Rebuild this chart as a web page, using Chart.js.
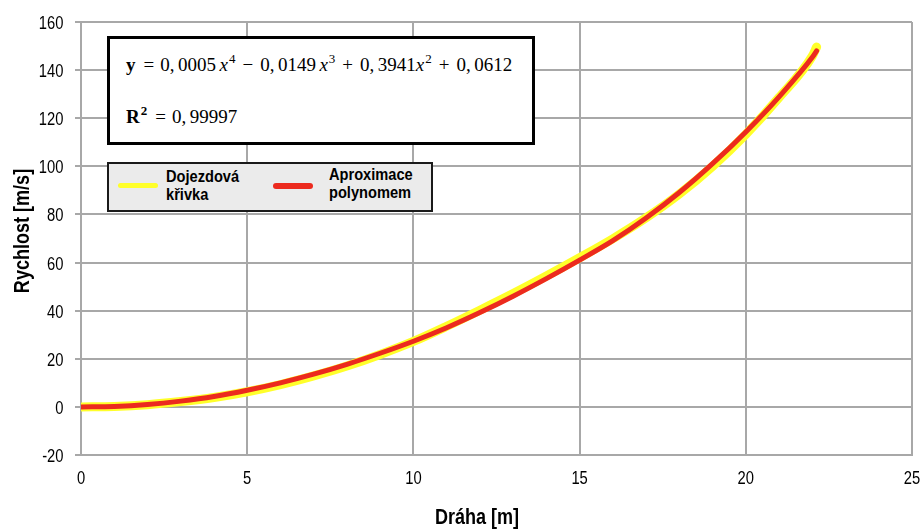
<!DOCTYPE html>
<html>
<head>
<meta charset="utf-8">
<title>Dojezdová křivka</title>
<script src="https://cdn.jsdelivr.net/npm/chart.js@4.4.1/dist/chart.umd.min.js"></script>
<style>
  html, body { margin: 0; padding: 0; background: #fff; }
  #wrap { position: relative; width: 923px; height: 530px; overflow: hidden; }
  #chart { position: absolute; left: 0; top: 0; }
  #eq {
    position: absolute; left: 107px; top: 36px; width: 428px; height: 109px;
    box-sizing: border-box; border: 3px solid #000; background: #fff;
    font-family: "Liberation Serif", "DejaVu Serif", serif; font-size: 19px; color: #000;
  }
  #eq .ln { position: absolute; left: 16px; white-space: nowrap; line-height: 19px; }
  #eq sup { font-size: 13px; line-height: 0; vertical-align: 0; position: relative; top: -7.5px; margin-left: 1px; }
  #eq i { font-style: italic; }
  #eq .op { margin: 0 7px; }
  #eq .rel { margin: 0 6px 0 8px; }
  #eq .th { margin-left: 3.5px; }
  #legend {
    position: absolute; left: 107px; top: 162px; width: 326px; height: 50px;
    box-sizing: border-box; border: 2px solid #1a1a1a; background: #ebebeb;
    font-family: "Liberation Sans", sans-serif;
    font-weight: bold; font-size: 17px; color: #000;
  }
  #legend .sw { position: absolute; width: 40px; border-radius: 3px; }
  #legend .tx { position: absolute; line-height: 18px; white-space: nowrap; transform: scaleX(0.86); transform-origin: 0 0; }
</style>
</head>
<body>
<div id="wrap">
  <canvas id="chart" width="923" height="530"></canvas>
  <div id="eq">
    <div class="ln" style="top:15.5px"><b>y</b><span class="rel">=</span>0,<span class="th"></span>0005<span class="th"></span><i>x</i><sup>4</sup><span class="op">−</span>0,<span class="th"></span>0149<span class="th"></span><i>x</i><sup>3</sup><span class="op">+</span>0,<span class="th"></span>3941<i>x</i><sup>2</sup><span class="op">+</span>0,<span class="th"></span>0612</div>
    <div class="ln" style="top:67.5px"><b>R<sup>2</sup></b><span class="rel">=</span>0,<span class="th"></span>99997</div>
  </div>
  <div id="legend"></div>
</div>
<script>
// Distance travelled during the coast-down run [m]
const distance = [0, 1, 2, 3, 4, 5, 6, 7, 8, 9, 10, 11, 12, 13, 14, 15, 16, 17, 18, 19, 20, 21, 22, 22.13];
// Measured coast-down curve [m/s]
const measuredSpeed = [0, 0.2, 0.9, 2.2, 3.9, 6.3, 9.3, 12.9, 17.0, 21.8, 27.2, 33.5, 40.2, 47.1, 54.4, 62.0, 69.9, 78.6, 88.5, 100.0, 113.3, 128.6, 145.8, 149.6];
// Polynomial approximation [m/s]
const approxSpeed = [0, 0.2, 1.0, 2.4, 4.3, 6.9, 10.0, 13.6, 17.7, 22.3, 27.3, 32.9, 39.2, 46.0, 53.3, 61.0, 69.1, 78.5, 89.1, 101.1, 114.3, 128.9, 145.3, 148.0];

const seriesLabels = ['Dojezdová křivka', 'Aproximace polynomem'];
const seriesColors = ['#ffff2a', '#ec2a1e'];

const xTitle = 'Dráha [m]';
const yTitle = 'Rychlost [m/s]';
const xTicks = { min: 0, max: 25, step: 5 };
const yTicks = { min: -20, max: 160, step: 20 };

const sansFamily = '"Liberation Sans", Arial, sans-serif';
const narrowScale = 0.82;   // condensed lettering
const gridColor = '#a8a8a8';

const toPoints = (xs, ys) => xs.map((x, i) => ({ x, y: ys[i] }));

// draws condensed text aligned at (x, y)
function narrowText(ctx, text, x, y, align) {
  ctx.save();
  ctx.translate(x, y);
  ctx.scale(narrowScale, 1);
  ctx.textAlign = align;
  ctx.fillText(text, 0, 0);
  ctx.restore();
}

// tick labels and axis titles in a condensed face
const condensedLabels = {
  id: 'condensedLabels',
  afterDraw(chart) {
    const { ctx, scales: { x, y } } = chart;
    ctx.save();
    ctx.fillStyle = '#000';
    ctx.textBaseline = 'middle';
    ctx.font = '18px ' + sansFamily;
    y.ticks.forEach(t => {
      narrowText(ctx, t.label, y.right - 17.5, y.getPixelForValue(t.value) + 2, 'right');
    });
    x.ticks.forEach(t => {
      narrowText(ctx, t.label, x.getPixelForValue(t.value), x.top + 24, 'center');
    });
    ctx.font = 'bold 22px ' + sansFamily;
    narrowText(ctx, xTitle, 477, 518, 'center');
    ctx.translate(23, 231);
    ctx.rotate(-Math.PI / 2);
    narrowText(ctx, yTitle, 0, 0, 'center');
    ctx.restore();
  }
};

const chart = new Chart(document.getElementById('chart'), {
  type: 'line',
  data: {
    datasets: [
      {
        label: seriesLabels[0],
        data: toPoints(distance, measuredSpeed),
        borderColor: seriesColors[0],
        backgroundColor: seriesColors[0],
        borderWidth: 9,
        order: 2
      },
      {
        label: seriesLabels[1],
        data: toPoints(distance, approxSpeed),
        borderColor: seriesColors[1],
        backgroundColor: seriesColors[1],
        borderWidth: 5,
        order: 1
      }
    ]
  },
  options: {
    responsive: false,
    animation: false,
    devicePixelRatio: 1,
    layout: { padding: { top: 22, right: 11, left: 0, bottom: 0 } },
    elements: {
      point: { radius: 0, hoverRadius: 0 },
      line: { cubicInterpolationMode: 'monotone', borderCapStyle: 'round', borderJoinStyle: 'round', fill: false }
    },
    plugins: {
      legend: { display: false },
      tooltip: { enabled: false },
      title: { display: false }
    },
    scales: {
      x: {
        type: 'linear',
        min: xTicks.min, max: xTicks.max,
        afterFit(scale) { scale.height = 75; },
        ticks: { display: false, stepSize: xTicks.step },
        grid: { color: gridColor, lineWidth: 2, drawTicks: false },
        border: { color: gridColor, width: 2 }
      },
      y: {
        type: 'linear',
        min: yTicks.min, max: yTicks.max,
        afterFit(scale) { scale.width = 81; },
        ticks: { display: false, stepSize: yTicks.step },
        grid: { color: gridColor, lineWidth: 2, drawTicks: true, tickLength: 6 },
        border: { color: gridColor, width: 2 }
      }
    }
  },
  plugins: [condensedLabels]
});

// legend box built from the chart's datasets
const legendEl = document.getElementById('legend');
const legendPos = [{ sw: 9, tx: 57, ty: 4, h: 5 }, { sw: 164, tx: 220, ty: 2, h: 6 }];
chart.data.datasets.forEach((ds, i) => {
  const p = legendPos[i];
  const sw = document.createElement('div');
  sw.className = 'sw';
  sw.style.left = p.sw + 'px';
  sw.style.top = (21.7 - p.h / 2) + 'px';
  sw.style.height = p.h + 'px';
  sw.style.background = ds.borderColor;
  legendEl.appendChild(sw);
  const tx = document.createElement('div');
  tx.className = 'tx';
  tx.style.left = p.tx + 'px';
  tx.style.top = p.ty + 'px';
  tx.innerHTML = ds.label.split(' ').join('<br>');
  legendEl.appendChild(tx);
});
</script>
</body>
</html>
